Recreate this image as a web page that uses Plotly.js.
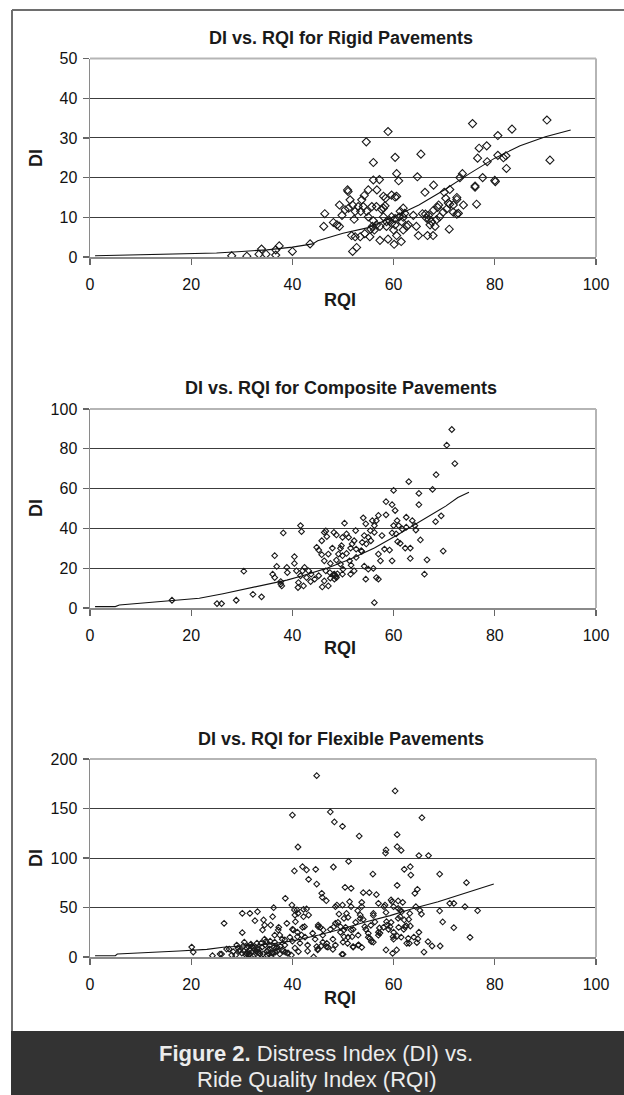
<!DOCTYPE html>
<html>
<head>
<meta charset="utf-8">
<script src="https://cdn.plot.ly/plotly-3.0.1.min.js"></script>
<style>
html,body{margin:0;padding:0;background:#fff;}
#chart{width:624px;height:1095px;}
</style>
</head>
<body>
<div id="chart"></div>
<script>
// ---------- DATA ----------
const chartTitles = ["DI vs. RQI for Rigid Pavements", "DI vs. RQI for Composite Pavements", "DI vs. RQI for Flexible Pavements"];
const xAxisLabel = "RQI";
const yAxisLabel = "DI";
const xTickVals = [0, 20, 40, 60, 80, 100];
const rigidYTicks = [0, 10, 20, 30, 40, 50];
const compositeYTicks = [0, 20, 40, 60, 80, 100];
const flexibleYTicks = [0, 50, 100, 150, 200];
const captionBold = "Figure 2.";
const captionLine1 = " Distress Index (DI) vs.";
const captionLine2 = "Ride Quality Index (RQI)";

const rigidRQI = [28,31,33.4,33.9,34.8,36.7,36.7,37.4,40,43.5,46.2,46.4,48.1,48.8,49.3,49.3,49.8,50.4,50.9,51.0,51.1,51.4,51.7,51.9,51.9,52.4,52.4,52.7,53,53.4,53.7,54,54.2,54.3,54.6,54.7,55,55,55.3,55.7,55.8,56,56,56,56.6,56.6,56.7,57.2,57.3,57.3,58,58,58,58.3,58.4,58.6,58.6,58.9,58.9,59.6,59.6,59.6,60,60.1,60.3,60.3,60.3,60.3,60.6,60.6,60.6,61,61.1,61.5,61.6,61.9,61.9,61.9,62.6,62.9,63.9,64.5,64.7,64.9,65.4,65.7,66.2,66.5,66.7,66.9,67.2,67.5,67.8,67.9,67.9,68.2,68.5,68.9,69.1,69.8,70,70.3,70.5,71,71.1,71.1,71.8,71.8,72.5,72.5,72.5,72.8,73.1,73.6,73.8,75.6,76.1,76.1,76.4,76.6,76.9,77.6,78.4,78.5,80.0,80.1,80.6,80.6,81.7,82.2,82.3,83.4,90.3,90.9,53.5,52.2,55.5,56.2,57.6,59.2,61.3,62.2,66.3,67,68.7,70.8];
const rigidDI = [0.3,0.2,0.7,2.0,0.7,0.5,1.8,2.8,1.4,3.3,7.7,10.9,8.7,8.1,13.1,7.7,10.5,11.9,16.9,16.5,12.3,14.4,5.4,13.1,1.4,11.5,5.1,2.4,12.7,5.1,14.4,12.7,15.5,5.9,29.0,11.5,16.9,10.1,5.1,12.7,7.7,23.8,19.4,9.1,8.1,12.7,16.9,19.5,7.7,4.2,15.3,12.3,10.1,12.9,14.8,8.9,7.7,31.6,4.5,15.6,8.5,10.1,6.8,3.2,25.1,15.1,9.7,8.1,21,15.3,5.4,19.2,10.1,3.9,8.9,12.3,10,6.8,7.7,8.1,10.5,7.7,20.2,5.4,25.9,10.9,16.3,9.8,5.4,10.5,8.1,8.9,5.4,18.1,11.8,7.7,9.4,13.1,10.1,11.3,16.3,14.8,12.1,7,17,13.3,13.1,11.3,15,14.5,10.8,11,20,21,13.1,33.6,17.9,17.6,13.3,24.9,27.4,20,28,24.0,19.3,19.0,30.6,25.6,25.0,25.5,22.3,32.2,34.5,24.4,11.5,9.5,7,6.8,12,9.2,11.5,11,10.8,9.5,12.5,13.6];
const rigidTrendRQI = [1, 12, 25, 30, 35, 40, 44, 45, 50, 55, 60, 65, 70, 75, 80, 85, 90, 95];
const rigidTrendDI = [0.3, 0.6, 1.0, 1.4, 1.8, 2.5, 3.3, 4.1, 6.0, 7.4, 10.1, 13.1, 16.9, 21.0, 24.9, 28.0, 30.3, 32.0];

const compositeRQI = [71.5,70.5,72.1,68.4,67.7,63,60,65,65,58.5,59.7,60.3,58.5,69.4,68.3,65.3,63.3,63.3,66.6,66.1,69.8,62.5,63.7,64.2,64.4,61.7,62.5,60.7,61,60,60.5,60.8,61.3,62.3,59.7,57.7,59.2,59.7,58.2,57,57.4,56,56.6,57,56.2,54.2,55,54.5,54,54.5,55.8,56.6,57,56.2,55.4,56.2,55,54.2,55.5,53.8,54.6,53.7,52.6,51.8,52.2,50.3,52.5,50.7,51.1,49.9,51.5,50.7,51.3,51.6,52.6,52.2,51.5,49.7,49.5,49.1,49.9,48.7,49.5,50,49.9,48.2,48.7,47.9,47.1,46.3,46.8,45.8,45.2,45.8,44.8,46.3,47.5,46.6,47.4,48.3,48.7,48.3,47.5,46.3,45.9,47.1,45.2,44.4,43.6,42.8,42,43.2,43.7,42.4,41.6,41.2,41.1,42.2,40.8,40.4,40.4,41.6,41.8,38.2,38.9,39,37.7,37.7,37.9,36.5,36.9,36.1,36.5,30.4,32.2,33.9,28.9,25.1,26,16.2,46.6,48.4,48.6,48.9,48.1,53.6];
const compositeDI = [89.7,81.8,72.6,67,59.6,63.5,59.1,57.6,51.9,53.4,51.9,49,46.8,46.3,43.4,34.2,30.1,24.9,24.2,17,28.6,45.6,43.9,41.4,39.2,39.7,40.6,43.9,41.4,41.4,37.2,33.3,32.5,30.1,37.7,36.4,29.1,23.7,29.6,27.1,23.7,19.9,15.3,14.5,2.7,21,19.5,14.5,45.3,42.3,43.9,43.9,46.5,41.4,38.9,38,35.5,36.4,33.8,33,32.2,28.5,29.6,32.2,33.8,42.6,38.9,37.2,35.5,35.5,30.1,27.4,23.7,21.5,25.4,18.7,17,31.3,30,27.1,26.3,24.1,22.1,19.5,17,38,36.7,30.1,27.1,38,35.9,33.8,29.1,26.8,30.5,23.7,22.4,18.7,17.8,17,15.3,14.5,15,13.6,10.6,11.1,16.2,14.5,13.3,15.3,18.7,18.7,17,20.4,16.2,12.8,10.3,11.1,18.7,22.4,25.8,41.4,38.4,37.7,20.4,17.8,13.3,12,11.1,26.3,20.9,17,15.3,18.5,6.9,5.6,3.9,2.2,2.2,3.9,38.7,16.5,15.8,17.2,16.8,28.8];
const compositeTrendRQI = [1, 5, 5.8, 16, 21.6, 26.3, 31.4, 34.1, 38.9, 42, 46.7, 51.5, 56.2, 60.9, 65.6, 70.3, 72.7, 74.9];
const compositeTrendDI = [0.7, 0.7, 1.5, 3.5, 4.9, 7.2, 9.9, 11.1, 14, 16.2, 19.9, 24.6, 30.1, 36.9, 43.9, 51.2, 55.5, 58.2];

const flexibleRQI = [44.8,60.3,40,47.5,48.3,49.9,65.6,53.2,60.7,41.1,60.7,61.5,58.5,58.4,65,66.9,51.1,40.4,42,42.8,43.2,44.6,44.8,48.1,55.9,62.1,63.3,63.4,69.1,74.4,60.7,64.7,64.2,50.4,51.6,45.8,54,55.2,56.6,57,38.6,39.9,36.3,40.4,41.1,42.2,42.8,45.9,46.7,49.9,53.7,52.9,60.9,61.8,60,61.3,64.4,65.5,69.1,69.7,71.1,71.9,74.1,76.6,71.9,75.1,64.8,66.8,67.6,62.6,63.1,62.5,63.3,60.7,62.1,58.5,59.8,50,44.2,30.1,31.6,33.1,32.6,34.3,36.1,34.5,26.5,30.1,34.1,35.7,37.3,38.9,37.2,37.5,38.5,40.5,40.6,40.2,41,41.2,40.9,42.2,42.4,41.8,43.2,45.1,45.1,46.1,46.8,44.8,45,45.7,46.7,48,48.5,48.2,48.5,48.8,49.2,50.2,50.2,49.8,50.2,49.5,51.6,51.6,51.8,50.9,52,50.7,51.3,53.7,53.1,53.7,53.4,53.4,54.3,55,55.3,55.6,56,56.3,57.3,57.2,58.1,58.3,59.5,59.7,60.9,61.6,61.3,58.6,59.3,59.9,60.6,60.9,58.7,62.2,63.2,62.9,65.2,64.6,69.2,30.3,28.3,25.7,24.2,20.1,20.4,26,27,28,29,29.5,30,30.5,31,31,31.5,32,32,32.5,33,33,33.5,34,34.5,35,35,35.5,35.5,36,36.5,36.5,37,37,37.5,38,38,38.5,39,39.5,40,40,40.5,41,41.5,42,42.5,43,43,44,44.5,45,45.5,46,46,47,47.5,48,48.5,49,49.5,50,50.5,51,51,52,52,52.5,53,53,54,54.5,55,55.5,56,56,57,57,58,58.5,59,59.5,60,60,61,61.5,62,63,64,65,66,29.2,30.8,31.8,32.8,33.6,34.8,35.2,36.2,37.6,38.2,39.2,27.5,28.8,31.2,32.2,34.2,36.8,38.6,39.8,30.4,31.4,32.4,33.2,34.6,35.4,36.4,30.9,32.6,33.8,35.8,29.6,31.6,33.4,35.6,36.6,31.2,34.4];
const flexibleDI = [183.2,167.7,143.4,146.5,136.4,132,140.7,122.2,123.6,111.1,111.4,107.7,108.1,105,102.4,102.4,96.6,86.9,91.2,87.9,78.5,88.6,73.7,90.9,83.8,88.6,91.2,82.8,83.8,75.1,72.4,68.4,64.3,70.4,69.4,64.3,65,65,63,54.2,59.3,52.5,49.8,47.5,44.1,48.1,48.5,60.3,56.9,52.5,55.2,46.8,56.6,55.2,50.8,47.5,50.8,43.4,46.5,35.4,54.2,54.2,50.8,46.8,29.6,19.9,18.2,15.5,11.1,13.8,13.8,31.3,31.3,21.2,37.4,7.1,3.7,2.7,0,44.1,44.1,45.8,36.7,37.4,40.7,32.3,34,24.6,27.3,32.3,30,34,27.3,22.2,17.2,42.4,35.7,27.3,20.5,5.4,47.5,40.7,30.6,22.2,42.4,32.3,30.6,27.3,13.8,10.5,7.1,11.1,10.5,7.7,34,30.6,50.8,52.5,43.4,20.5,27.3,2.7,39,30.6,50.8,27.3,20.5,13.8,10.5,44,55.9,50.8,12.2,9.8,39,42.4,30.6,23.9,18.9,15.5,44,35.4,24.2,29.3,50.8,52.5,57.6,55.9,49.1,45.8,40.7,35.7,30.6,20.5,7.1,39,32.3,30.6,44,18.9,47.1,14.5,11.1,11.1,5.4,3,1.3,10,5,3,8,2,12,6,4,15,9,3,7,11,5,2,14,8,4,10,18,6,2,12,8,4,15,22,6,10,3,18,7,12,4,20,16,28,9,25,14,30,20,6,12,24,18,8,30,15,22,10,28,18,12,35,25,15,30,20,40,10,28,35,12,22,38,28,20,32,15,42,25,22,30,45,28,35,18,25,30,20,28,38,20,25,5,9,2,13,6,3,16,7,4,11,6,4,8,2,5,1,3,9,5,2,6,3,9,5,12,3,10,4,7,14,1,7,3,8,16,5,11];
const flexibleTrendRQI = [1, 5, 5.4, 13.7, 17.6, 23.1, 26.3, 31, 35.7, 40.4, 45.2, 49.9, 54.6, 59.3, 64, 68.8, 73.5, 79.8];
const flexibleTrendDI = [1.3, 1.3, 3, 4.7, 6, 7.7, 9.8, 11.4, 13.1, 16.5, 22.2, 28.6, 35.7, 41.8, 49.2, 55.9, 63.6, 73.7];

// ---------- LAYOUT HELPERS ----------
const W = 624, H = 1095;
const px = v => v / W;
const py = v => 1 - v / H;
const plotLeft = 90, plotRight = 596;
const panels = [
  {top: 58.5, bottom: 257, titleY: 38, xTitleY: 300, yTitleY: 158, ticks: rigidYTicks, xs: rigidRQI, ys: rigidDI, tx: rigidTrendRQI, ty: rigidTrendDI, msize: 6.2},
  {top: 409, bottom: 608, titleY: 388, xTitleY: 648, yTitleY: 508, ticks: compositeYTicks, xs: compositeRQI, ys: compositeDI, tx: compositeTrendRQI, ty: compositeTrendDI, msize: 4.4},
  {top: 759, bottom: 957, titleY: 739, xTitleY: 998, yTitleY: 858, ticks: flexibleYTicks, xs: flexibleRQI, ys: flexibleDI, tx: flexibleTrendRQI, ty: flexibleTrendDI, msize: 4.4}
];

const FONT = 'Arial, "Liberation Sans", Helvetica, sans-serif';
const traces = [];
const layout = {
  width: W, height: H,
  margin: {l: 0, r: 0, t: 0, b: 0},
  paper_bgcolor: '#ffffff',
  plot_bgcolor: '#ffffff',
  showlegend: false,
  font: {family: FONT, color: '#000'},
  annotations: [],
  shapes: []
};

panels.forEach((p, i) => {
  const n = i === 0 ? '' : String(i + 1);
  const xa = 'xaxis' + n, ya = 'yaxis' + n;
  const xr = 'x' + n, yr = 'y' + n;
  const yt = p.ticks;
  layout[xa] = {
    domain: [px(plotLeft), px(plotRight)],
    anchor: yr,
    range: [0, 100],
    tickvals: xTickVals,
    ticks: 'outside', ticklen: 6, tickcolor: '#666', tickwidth: 1.2,
    showline: true, linecolor: '#8a8a8a', linewidth: 1.5,
    showgrid: false, zeroline: false,
    tickfont: {family: FONT, size: 16, color: '#111'},
    ticklabelstandoff: 6,
    fixedrange: true
  };
  layout[ya] = {
    domain: [py(p.bottom), py(p.top)],
    anchor: xr,
    range: [yt[0], yt[yt.length - 1]],
    tickvals: yt,
    ticks: 'outside', ticklen: 6, tickcolor: '#666', tickwidth: 1.2,
    showline: true, linecolor: '#8a8a8a', linewidth: 1.5,
    showgrid: true, gridcolor: '#3c3c3c', gridwidth: 1,
    zeroline: false,
    tickfont: {family: FONT, size: 16, color: '#111'},
    ticklabelstandoff: 2,
    fixedrange: true
  };
  layout.shapes.push({type: 'line', xref: xr + ' domain', yref: yr + ' domain', x0: 0, x1: 1, y0: 1, y1: 1, line: {color: '#b5b5b5', width: 2}});
  layout.shapes.push({type: 'line', xref: xr + ' domain', yref: yr + ' domain', x0: 1, x1: 1, y0: 0, y1: 1, line: {color: '#b5b5b5', width: 2}});

  traces.push({
    type: 'scatter', mode: 'markers', x: p.xs, y: p.ys, xaxis: xr, yaxis: yr,
    marker: {symbol: 'diamond-open', size: p.msize, color: '#1a1a1a', line: {width: 1.1, color: '#1a1a1a'}},
    hoverinfo: 'skip', cliponaxis: true
  });
  traces.push({
    type: 'scatter', mode: 'lines', x: p.tx, y: p.ty, xaxis: xr, yaxis: yr,
    line: {color: '#111', width: 1.1},
    hoverinfo: 'skip'
  });

  layout.annotations.push({
    xref: 'paper', yref: 'paper', x: px(341), y: py(p.titleY), xanchor: 'center', yanchor: 'middle',
    text: '<b>' + chartTitles[i] + '</b>', showarrow: false,
    font: {family: FONT, size: 18, color: '#1a1a1a'}
  });
  layout.annotations.push({
    xref: 'paper', yref: 'paper', x: px(340), y: py(p.xTitleY), xanchor: 'center', yanchor: 'middle',
    text: '<b>' + xAxisLabel + '</b>', showarrow: false,
    font: {family: FONT, size: 18, color: '#1a1a1a'}
  });
  layout.annotations.push({
    xref: 'paper', yref: 'paper', x: px(36), y: py(p.yTitleY), xanchor: 'center', yanchor: 'middle',
    text: '<b>' + yAxisLabel + '</b>', showarrow: false, textangle: -90,
    font: {family: FONT, size: 18, color: '#1a1a1a'}
  });
});

// outer frame (left & top rule)
layout.shapes.push({type: 'line', xref: 'paper', yref: 'paper', x0: px(12), x1: px(12), y0: py(1031), y1: py(10), line: {color: '#6e6e6e', width: 2}});
layout.shapes.push({type: 'line', xref: 'paper', yref: 'paper', x0: px(12), x1: 1, y0: py(10), y1: py(10), line: {color: '#6e6e6e', width: 2}});
// caption band
layout.shapes.push({type: 'rect', xref: 'paper', yref: 'paper', x0: px(11), x1: 1, y0: 0, y1: py(1031), fillcolor: '#333333', line: {width: 0}, layer: 'above'});
layout.annotations.push({
  xref: 'paper', yref: 'paper', x: px(316), y: py(1053), xanchor: 'center', yanchor: 'middle',
  text: '<b>' + captionBold + '</b>' + captionLine1, showarrow: false,
  font: {family: FONT, size: 22, color: '#ececec'}
});
layout.annotations.push({
  xref: 'paper', yref: 'paper', x: px(317), y: py(1079), xanchor: 'center', yanchor: 'middle',
  text: captionLine2, showarrow: false,
  font: {family: FONT, size: 22, color: '#ececec'}
});

Plotly.newPlot('chart', traces, layout, {displayModeBar: false, staticPlot: true});
</script>
</body>
</html>
